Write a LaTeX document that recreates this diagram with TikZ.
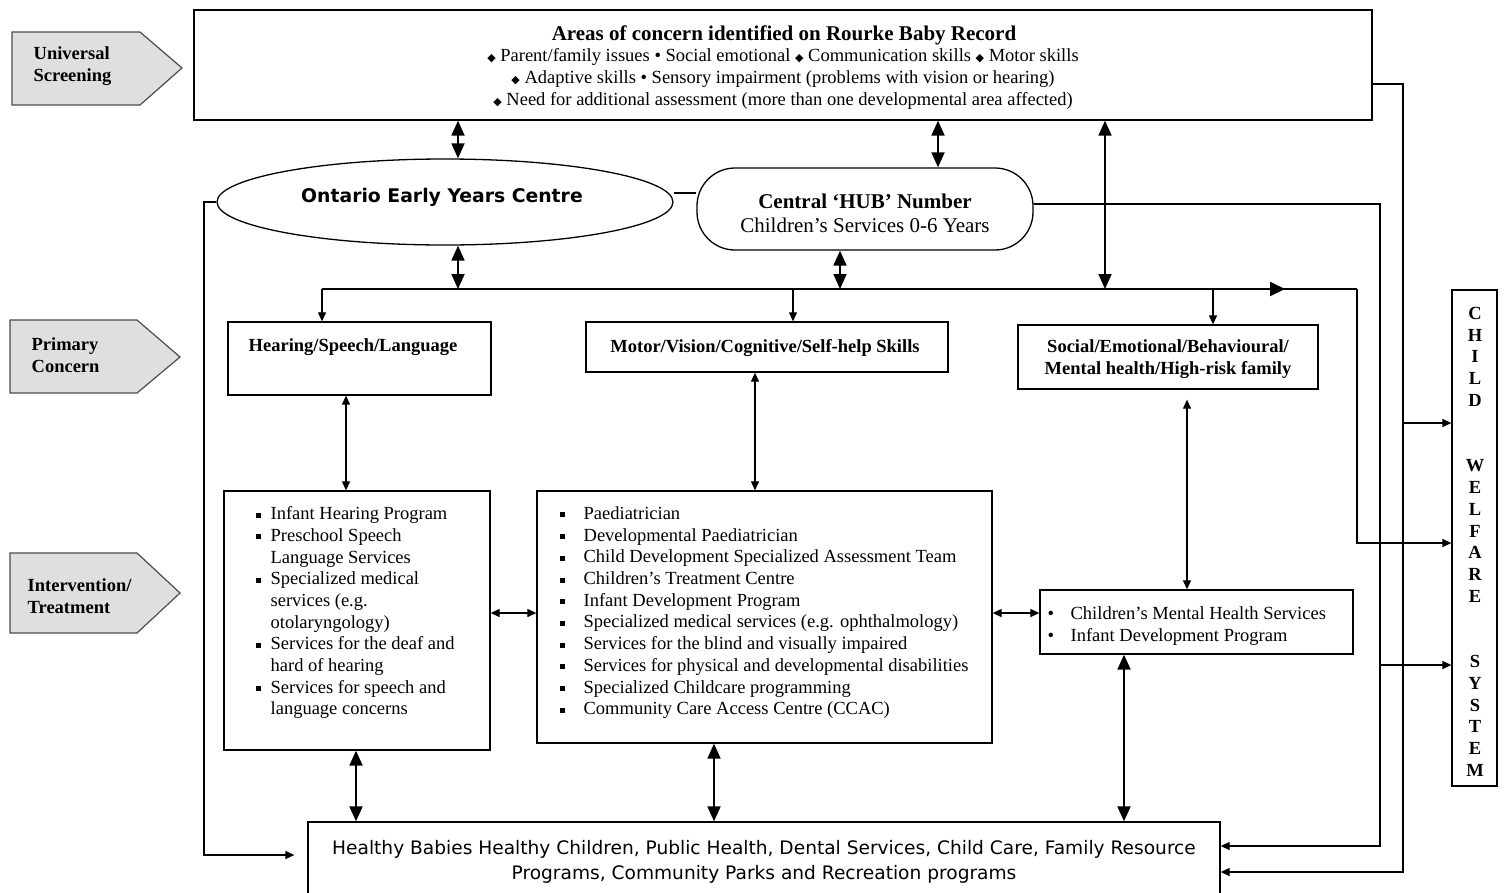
\documentclass[tikz,border=0pt]{standalone}
\usepackage{fontspec}
\setmainfont{Liberation Serif}
\newfontfamily\dvs{DejaVu Sans}
\usetikzlibrary{arrows.meta,shapes.geometric}
\newcommand{\sqb}{\rule[2pt]{5pt}{5pt}}
\newcommand{\dia}{{\dvs\fontsize{11}{11}\selectfont ◆}}
\newcommand{\bl}{\makebox[14.5pt][l]{\sqb}}
\newcommand{\ind}{\hspace*{14.5pt}}
\newcommand{\blm}{\makebox[23.5pt][l]{\sqb}}
\newcommand{\blr}{\makebox[23pt][l]{\textbullet}}
\begin{document}
\begin{tikzpicture}[x=1pt,y=-1pt,line width=1.3pt,
  box/.style={draw,rectangle,inner sep=0pt,line width=1.3pt},
  txt/.style={inner sep=0pt,font=\fontsize{18.5}{21.7}\selectfont},
  btxt/.style={inner sep=0pt,font=\fontsize{18.5}{21.7}\selectfont\bfseries},
  tag/.style={fill=gray!25,draw=black!70,line width=1.2pt},
  sa/.style={-{Triangle[length=9pt,width=8pt]},line width=1.2pt},
  sab/.style={{Triangle[length=9pt,width=8pt]}-{Triangle[length=9pt,width=8pt]},line width=1.2pt},
  ba/.style={-{Triangle[length=15pt,width=14pt]},line width=1.8pt},
  bab/.style={{Triangle[length=15pt,width=13pt]}-{Triangle[length=15pt,width=13pt]},line width=1.8pt}]
\fill[white] (0,0) rectangle (1504,892);
\useasboundingbox (0,0) rectangle (1504,892);
\clip (0,0) rectangle (1504,892);

% side tags
\filldraw[tag] (12,32) -- (140,32) -- (182,68) -- (140,105) -- (12,105) -- cycle;
\node[btxt,align=left,anchor=west] (tus) at (33,66) {Universal\\Screening};
\filldraw[tag] (10,320) -- (137,320) -- (180,357) -- (137,393) -- (10,393) -- cycle;
\node[btxt,align=left,anchor=west] (tpc) at (31,355) {Primary\\Concern};
\filldraw[tag] (10,553) -- (137,553) -- (180,593) -- (137,633) -- (10,633) -- cycle;
\node[btxt,align=left,anchor=west] (tit) at (27,596) {Intervention/\\Treatment};

% top box
\node[box,minimum width=1178pt,minimum height=110pt] (top) at (783,65) {};
\node[inner sep=0pt,font=\fontsize{21}{24}\selectfont\bfseries,anchor=base] (top1) at (784,40) {Areas of concern identified on Rourke Baby Record};
\node[txt,anchor=base] (top2) at (783,61) {\dia\ Parent/family issues \textbullet\ Social emotional \dia\ Communication skills \dia\ Motor skills};
\node[txt,anchor=base] (top3) at (783,83) {\dia\ Adaptive skills \textbullet\ Sensory impairment (problems with vision or hearing)};
\node[txt,anchor=base] (top4) at (783,105) {\dia\ Need for additional assessment (more than one developmental area affected)};

% ellipse and hub
\node[draw,ellipse,line width=1.3pt,minimum width=456pt,minimum height=86pt,inner sep=0pt] (oey) at (445,202) {};
\node[inner sep=0pt,font=\dvs\bfseries\fontsize{18.8}{22}\selectfont,anchor=base] (oeyt) at (442,202) {Ontario Early Years Centre};
\node[draw,rectangle,rounded corners=38pt,line width=1.3pt,minimum width=336pt,minimum height=82pt,inner sep=0pt] (hub) at (865,209) {};
\node[inner sep=0pt,align=center,font=\fontsize{21}{24}\selectfont] (hubt) at (865,213) {{\bfseries Central ‘HUB’ Number}\\Children’s Services 0-6 Years};

% primary concern boxes
\node[box,minimum width=263pt,minimum height=73pt] (hear) at (359.5,358.5) {};
\node[btxt,anchor=base] (heart) at (353,351) {Hearing/Speech/Language};
\node[box,minimum width=362pt,minimum height=50pt] (mot) at (767,347) {};
\node[btxt,anchor=base] (mott) at (765,352) {Motor/Vision/Cognitive/Self-help Skills};
\node[box,minimum width=300pt,minimum height=64pt] (soc) at (1168,357) {};
\node[btxt,align=center] (soct) at (1168,359) {Social/Emotional/Behavioural/\\Mental health/High-risk family};

% intervention boxes
\node[box,minimum width=266pt,minimum height=259pt] (intl) at (357,620.5) {};
\node[txt,align=left,anchor=north west] (intlt) at (255.5,506) {\bl Infant Hearing Program\\
\bl Preschool Speech\\ \ind Language Services\\
\bl Specialized medical\\ \ind services (e.g.\\ \ind otolaryngology)\\
\bl Services for the deaf and\\ \ind hard of hearing\\
\bl Services for speech and\\ \ind language concerns};
\node[box,minimum width=455pt,minimum height=252pt] (intm) at (764.5,617) {};
\node[txt,align=left,anchor=north west] (intmt) at (559.5,506) {\blm Paediatrician\\
\blm Developmental Paediatrician\\
\blm Child Development Specialized Assessment Team\\
\blm Children’s Treatment Centre\\
\blm Infant Development Program\\
\blm Specialized medical services (e.g. ophthalmology)\\
\blm Services for the blind and visually impaired\\
\blm Services for physical and developmental disabilities\\
\blm Specialized Childcare programming\\
\blm Community Care Access Centre (CCAC)};
\node[box,minimum width=313pt,minimum height=64pt] (intr) at (1196.5,622) {};
\node[txt,align=left,anchor=north west] (intrt) at (1047,606) {\blr Children’s Mental Health Services\\ \blr Infant Development Program};

% bottom box
\node[box,minimum width=912pt,minimum height=100pt] (bot) at (764,872) {};
\node[inner sep=0pt,align=center,anchor=north,font=\dvs\fontsize{18.6}{25}\selectfont] (bott) at (764,840) {Healthy Babies Healthy Children, Public Health, Dental Services, Child Care, Family Resource\\Programs, Community Parks and Recreation programs};

% child welfare system
\node[box,minimum width=45pt,minimum height=496pt] (cw) at (1474.5,538) {};
\node[inner sep=0pt,align=center,anchor=north,font=\fontsize{18.5}{21.76}\selectfont\bfseries] (cwt) at (1475,306.5) {C\\H\\I\\L\\D\\\mbox{}\\\mbox{}\\W\\E\\L\\F\\A\\R\\E\\\mbox{}\\\mbox{}\\S\\Y\\S\\T\\E\\M};

% connectors
\coordinate (dl) at (322,289);
\coordinate (dr) at (1357,289);
\draw[bab] (top.south -| 458,0) -- (oey.north -| 458,0);
\draw[bab] (top.south -| 938,0) -- (hub.north -| 938,0);
\draw[bab] (top.south -| 1105,0) -- (dl -| 1105,0);
\draw[bab] (oey.south -| 458,0) -- (dl -| 458,0);
\draw[bab] (hub.south -| 840,0) -- (dl -| 840,0);
\draw[line width=1.3pt] (dl) -- (dr);
\draw[ba] (dl -| 1250,0) -- (dl -| 1285,0);
\draw[sa] (dr) |- (cw.west |- 0,543);
\draw[sa] (dl) -- (hear.north -| dl);
\draw[sa] (dl -| 793,0) -- (mot.north -| 793,0);
\draw[sa] (dl -| 1213,0) -- (soc.north -| 1213,0);
\draw[sab] (hear.south -| 346,0) -- (intl.north -| 346,0);
\draw[sab] (mot.south -| 755,0) -- (intm.north -| 755,0);
\draw[sab,shorten <=10pt] (soc.south -| 1187,0) -- (intr.north -| 1187,0);
\draw[sab] (intl.east |- 0,613) -- (intm.west |- 0,613);
\draw[sab] (intm.east |- 0,613) -- (intr.west |- 0,613);
\draw[bab] (intl.south -| 356,0) -- (bot.north -| 356,0);
\draw[bab] (intm.south -| 714,0) -- (bot.north -| 714,0);
\draw[bab] (intr.south -| 1124,0) -- (bot.north -| 1124,0);
\draw[sa,shorten >=13pt] (oey.west) -- (204,202) |- (bot.west |- 0,855);
\draw (hub.west |- 0,193) -- (oey.east |- 0,193);
\draw[sa] (top.east |- 0,84) -| (1403,872) -- (bot.east |- 0,872);
\draw[sa] (1403,423) -- (cw.west |- 0,423);
\draw[sa] (hub.east |- 0,204) -| (1380,846) -- (bot.east |- 0,846);
\draw[sa] (1380,665) -- (cw.west |- 0,665);
\end{tikzpicture}
\end{document}
